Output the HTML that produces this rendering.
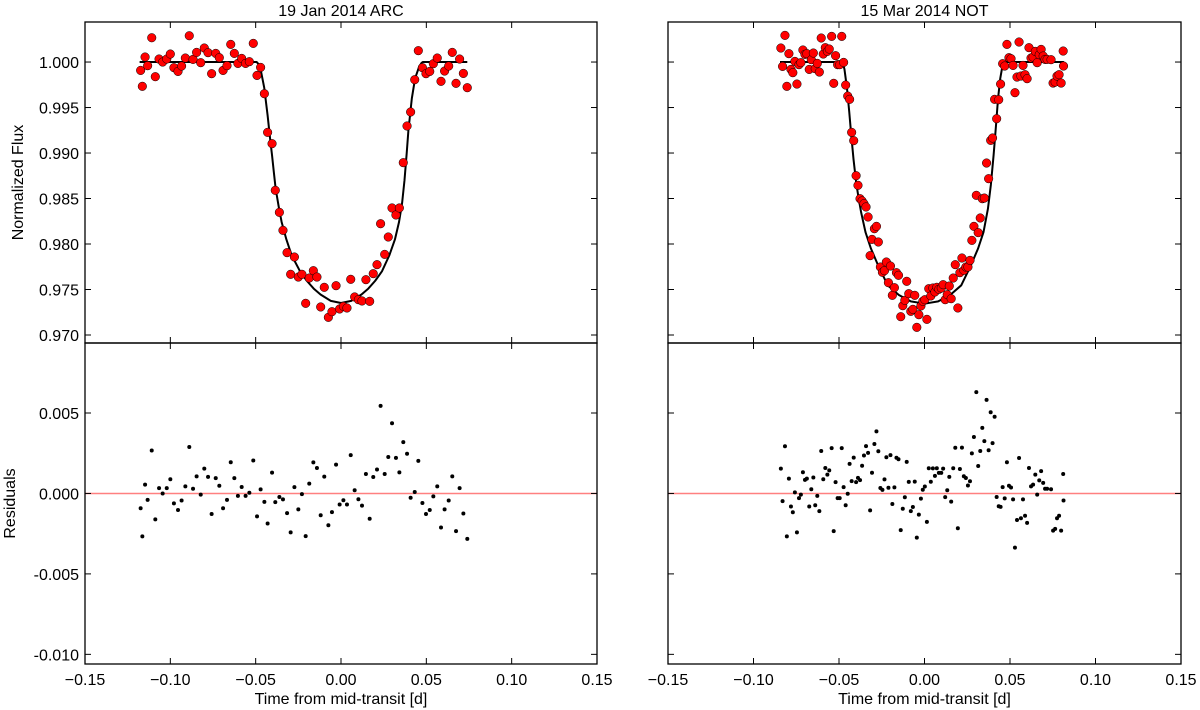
<!DOCTYPE html>
<html><head><meta charset="utf-8"><style>
html,body{margin:0;padding:0;background:#fff;}
svg{display:block;font-family:"Liberation Sans",sans-serif;}
</style></head><body>
<svg id="chart" width="1200" height="710" viewBox="0 0 1200 710" xmlns="http://www.w3.org/2000/svg"></svg>
<script>
// ---- data ----
const leftTitle = "19 Jan 2014 ARC";
const rightTitle = "15 Mar 2014 NOT";
const xTicks = [-0.15,-0.10,-0.05,0.00,0.05,0.10,0.15];
const xTickLabels = ["\u22120.15","\u22120.10","\u22120.05","0.00","0.05","0.10","0.15"];
const fluxTicks = [0.970,0.975,0.980,0.985,0.990,0.995,1.000];
const fluxTickLabels = ["0.970","0.975","0.980","0.985","0.990","0.995","1.000"];
const resTicks = [-0.010,-0.005,0.000,0.005];
const resTickLabels = ["-0.010","-0.005","0.000","0.005"];

const leftTime = [-0.1174,-0.1164,-0.1148,-0.1133,-0.1109,-0.1088,-0.1066,-0.1045,-0.1021,-0.1000,-0.0979,-0.0955,-0.0934,-0.0912,-0.0889,-0.0867,-0.0846,-0.0822,-0.0801,-0.0779,-0.0758,-0.0734,-0.0713,-0.0691,-0.0668,-0.0646,-0.0625,-0.0604,-0.0582,-0.0559,-0.0537,-0.0514,-0.0492,-0.0471,-0.0449,-0.0430,-0.0404,-0.0385,-0.0361,-0.0340,-0.0316,-0.0273,-0.0295,-0.0250,-0.0229,-0.0207,-0.0186,-0.0162,-0.0141,-0.0119,-0.0098,-0.0074,-0.0053,-0.0029,-0.0008,0.0014,0.0035,0.0057,0.0080,0.0102,0.0123,0.0146,0.0168,0.0189,0.0211,0.0232,0.0256,0.0277,0.0299,0.0322,0.0342,0.0365,0.0387,0.0408,0.0432,0.0453,0.0477,0.0498,0.0520,0.0541,0.0564,0.0586,0.0607,0.0631,0.0652,0.0674,0.0695,0.0717,0.0740];
const leftFlux = [0.99908,0.99733,1.00055,0.9996,1.00267,0.99839,1.00033,1.0000,1.00033,1.00088,0.99938,0.99897,0.99956,1.00044,1.00289,1.00029,1.00106,0.99993,1.00154,1.00103,0.99872,1.00095,1.00048,0.99908,0.9996,1.00194,1.00095,0.99985,1.0004,0.99985,1.00004,1.00205,0.99853,0.99941,0.99652,0.99227,0.99103,0.9859,0.98348,0.9815,0.97905,0.97857,0.97667,0.97637,0.97667,0.97348,0.97626,0.97707,0.97637,0.97308,0.97524,0.97194,0.97256,0.97542,0.97286,0.97315,0.97297,0.97612,0.97418,0.97388,0.97374,0.97608,0.9737,0.97674,0.97773,0.98223,0.97886,0.98077,0.98396,0.98319,0.98396,0.98894,0.99297,0.99451,0.99806,1.00125,0.99938,0.99872,0.99897,0.99982,1.00044,0.99788,0.99901,0.99956,1.00106,0.99766,1.00033,0.99875,0.99718];
const leftModelTime = [-0.118,-0.0494,-0.0482,-0.047,-0.045,-0.043,-0.0415,-0.0404,-0.0393,-0.0383,-0.0365,-0.0348,-0.032,-0.0289,-0.024,-0.020,-0.016,-0.012,-0.006,0.0,0.006,0.012,0.016,0.020,0.024,0.0283,0.0316,0.034,0.0358,0.0372,0.0385,0.0395,0.0415,0.0434,0.0458,0.0472,0.0479,0.074];
const leftModelFlux = [1.0,1.0,0.99975,0.9991,0.99720,0.99414,0.9915,0.98974,0.98780,0.9861,0.98410,0.98242,0.9805,0.97875,0.9770,0.97595,0.9751,0.97445,0.97375,0.97352,0.97375,0.97445,0.9751,0.97595,0.9770,0.97875,0.9805,0.98242,0.98450,0.9870,0.9900,0.99250,0.99600,0.99820,0.99950,0.99990,1.0,1.0];

const rightTime = [-0.0840,-0.0830,-0.0816,-0.0805,-0.0793,-0.0781,-0.0770,-0.0758,-0.0746,-0.0734,-0.0723,-0.0711,-0.0699,-0.0688,-0.0674,-0.0662,-0.0650,-0.0639,-0.0627,-0.0615,-0.0604,-0.0592,-0.0580,-0.0568,-0.0557,-0.0543,-0.0531,-0.0520,-0.0508,-0.0496,-0.0484,-0.0473,-0.0461,-0.0449,-0.0438,-0.0426,-0.0414,-0.0400,-0.0389,-0.0377,-0.0365,-0.0354,-0.0342,-0.0330,-0.0318,-0.0307,-0.0293,-0.0281,-0.0270,-0.0258,-0.0246,-0.0234,-0.0223,-0.0211,-0.0199,-0.0188,-0.0176,-0.0164,-0.0152,-0.0139,-0.0127,-0.0115,-0.0104,-0.0092,-0.0080,-0.0068,-0.0057,-0.0045,-0.0033,-0.0021,-0.0010,0.0002,0.0014,0.0025,0.0037,0.0049,0.0061,0.0072,0.0084,0.0098,0.0109,0.0121,0.0133,0.0145,0.0156,0.0168,0.0180,0.0195,0.0207,0.0219,0.0230,0.0242,0.0254,0.0266,0.0277,0.0289,0.0303,0.0314,0.0326,0.0338,0.0350,0.0363,0.0375,0.0387,0.0398,0.0410,0.0422,0.0434,0.0445,0.0457,0.0469,0.0482,0.0494,0.0506,0.0518,0.0529,0.0541,0.0553,0.0564,0.0576,0.0588,0.0600,0.0611,0.0623,0.0635,0.0648,0.0659,0.0671,0.0682,0.0694,0.0705,0.0717,0.0740,0.0752,0.0764,0.0775,0.0787,0.0799,0.0811,0.0813];
const rightFlux = [1.00154,0.99952,1.00293,0.99733,1.00092,0.99919,0.99883,1.00007,0.99758,0.99971,0.99993,1.00132,1.00084,1.00092,0.99919,1.00026,1.00099,0.99927,0.99985,0.9989,1.00264,1.00088,1.00158,1.00117,1.00143,1.00282,0.99766,1.0007,0.99971,0.99971,1.00282,0.99996,0.99747,0.99626,0.9959,0.99227,0.99136,0.98751,0.98645,0.98498,0.98473,0.98443,0.98407,0.98297,0.97872,0.98051,0.98168,0.98194,0.98022,0.97747,0.97689,0.97707,0.97802,0.97575,0.97758,0.97436,0.9752,0.97685,0.97656,0.97201,0.97322,0.97381,0.9759,0.97454,0.9726,0.97282,0.97436,0.97084,0.97223,0.97319,0.9737,0.97388,0.97172,0.97509,0.97429,0.97516,0.97473,0.97524,0.97502,0.97516,0.97553,0.97388,0.97443,0.97538,0.97399,0.97626,0.97773,0.97297,0.97685,0.97846,0.97711,0.97747,0.97747,0.9782,0.9804,0.98194,0.98535,0.98125,0.98286,0.98498,0.98505,0.9889,0.98718,0.99139,0.99165,0.9959,0.99377,0.99586,0.99758,0.99982,0.99956,1.00194,1.00048,1.00037,0.99963,0.99663,0.99835,1.0022,0.99846,0.99963,0.99861,0.99817,1.00158,1.00044,1.00055,1.00117,0.99993,1.00081,1.00139,1.00066,1.00029,1.00029,1.00026,0.99769,0.9978,0.99846,0.99861,0.99769,1.00121,0.99956];
const rightModelTime = [-0.0845,-0.0479,-0.0468,-0.0453,-0.0440,-0.043,-0.0415,-0.0400,-0.0385,-0.0371,-0.0345,-0.0313,-0.027,-0.0215,-0.015,-0.008,0.0,0.008,0.015,0.0215,0.027,0.0313,0.0345,0.0371,0.0388,0.0404,0.0418,0.0430,0.0443,0.0453,0.0468,0.0479,0.0815];
const rightModelFlux = [1.0,1.0,0.9992,0.99707,0.9945,0.99231,0.9893,0.98681,0.98500,0.98352,0.98130,0.97949,0.9776,0.97546,0.97440,0.97370,0.97344,0.97370,0.97440,0.97546,0.9776,0.97949,0.98130,0.98388,0.98650,0.98974,0.99300,0.99597,0.99820,0.99927,0.99985,1.0,1.0];

// ---- drawing ----
const NS = "http://www.w3.org/2000/svg";
const svg = document.getElementById("chart");
function el(tag, attrs, parent){ const e=document.createElementNS(NS,tag); for(const k in attrs) e.setAttribute(k,attrs[k]); (parent||svg).appendChild(e); return e; }
function modelAt(mt, mf, t){
  if(t<=mt[0]) return mf[0];
  for(let i=1;i<mt.length;i++){ if(t<=mt[i]){ const a=(t-mt[i-1])/(mt[i]-mt[i-1]); return mf[i-1]+a*(mf[i]-mf[i-1]); } }
  return mf[mf.length-1];
}
const X0=-0.15, X1=0.15;
const FY0=0.96912, FY1=1.0044;
const RY0=-0.0106, RY1=0.00935;
const topY=22, midY=343, botY=664;

function panel(px0, px1, title, time, flux, mt, mf, side, showY){
  const g = el("g",{});
  
  
  const sx = t => px0 + (t-X0)/(X1-X0)*(px1-px0);
  const sf = f => midY - (f-FY0)/(FY1-FY0)*(midY-topY);
  const sr = r => botY - (r-RY0)/(RY1-RY0)*(botY-midY);
  const tt = el("text",{x:(px0+px1)/2,y:16,"text-anchor":"middle","font-size":"16"},g);
  tt.textContent = title;
  
  
  const zl = el("line",{x1:px0,x2:px1,y1:sr(0),y2:sr(0),stroke:"#ff8080","stroke-width":1.5},g);
  
  
  let d="";
  mt.forEach((t,i)=>{ d += (i?"L":"M")+sx(t).toFixed(2)+","+sf(mf[i]).toFixed(2); });
  const ml = el("path",{d:d,fill:"none",stroke:"#000","stroke-width":2,"stroke-linejoin":"round"},g);
  
  
  time.forEach((t,i)=>{
    const c = el("circle",{cx:sx(t),cy:sf(flux[i]),r:4.3,fill:"#f00",stroke:"#000","stroke-width":0.5},g);
    
    
    const r = flux[i]-modelAt(mt,mf,t);
    const p = el("circle",{cx:sx(t),cy:sr(r),r:2,fill:"#000"},g);
    
    
  });
  const f1 = el("rect",{x:px0,y:topY,width:px1-px0,height:midY-topY,fill:"none",stroke:"#000","stroke-width":1.3},g);
  
  
  const f2 = el("rect",{x:px0,y:midY,width:px1-px0,height:botY-midY,fill:"none",stroke:"#000","stroke-width":1.3},g);
  
  
  xTicks.forEach((t,i)=>{
    const x=sx(t);
    [[topY,topY+6],[midY,midY-6],[midY,midY+6],[botY,botY-6]].forEach(([a,b])=>el("line",{x1:x,x2:x,y1:a,y2:b,stroke:"#000","stroke-width":1},g));
    const lb = el("text",{x:x,y:botY+21,"text-anchor":"middle","font-size":"16"},g);
    lb.textContent = xTickLabels[i];
    
    
  });
  const xl = el("text",{x:(px0+px1)/2,y:botY+40,"text-anchor":"middle","font-size":"16"},g);
  xl.textContent = "Time from mid-transit [d]";
  
  
  fluxTicks.forEach((v,i)=>{
    const y=sf(v);
    el("line",{x1:px0,x2:px0+6,y1:y,y2:y,stroke:"#000"},g);
    el("line",{x1:px1,x2:px1-6,y1:y,y2:y,stroke:"#000"},g);
    if(showY){
      const lb = el("text",{x:px0-6,y:y+6,"text-anchor":"end","font-size":"16"},g);
      lb.textContent = fluxTickLabels[i];
      
      
    }
  });
  resTicks.forEach((v,i)=>{
    const y=sr(v);
    el("line",{x1:px0,x2:px0+6,y1:y,y2:y,stroke:"#000"},g);
    el("line",{x1:px1,x2:px1-6,y1:y,y2:y,stroke:"#000"},g);
    if(showY){
      const lb = el("text",{x:px0-6,y:y+6,"text-anchor":"end","font-size":"16"},g);
      lb.textContent = resTickLabels[i];
      
      
    }
  });
  if(showY){
    const yl = el("text",{x:0,y:0,"text-anchor":"middle","font-size":"16",transform:"translate(23,"+((topY+midY)/2)+") rotate(-90)"},g);
    yl.textContent = "Normalized Flux";
    
    
    const rl = el("text",{x:0,y:0,"text-anchor":"middle","font-size":"16",transform:"translate(15,"+((midY+botY)/2)+") rotate(-90)"},g);
    rl.textContent = "Residuals";
    
    
  }
}
panel(85, 597, leftTitle, leftTime, leftFlux, leftModelTime, leftModelFlux, "left", true);
panel(668, 1181, rightTitle, rightTime, rightFlux, rightModelTime, rightModelFlux, "right", false);
</script>
</body></html>
